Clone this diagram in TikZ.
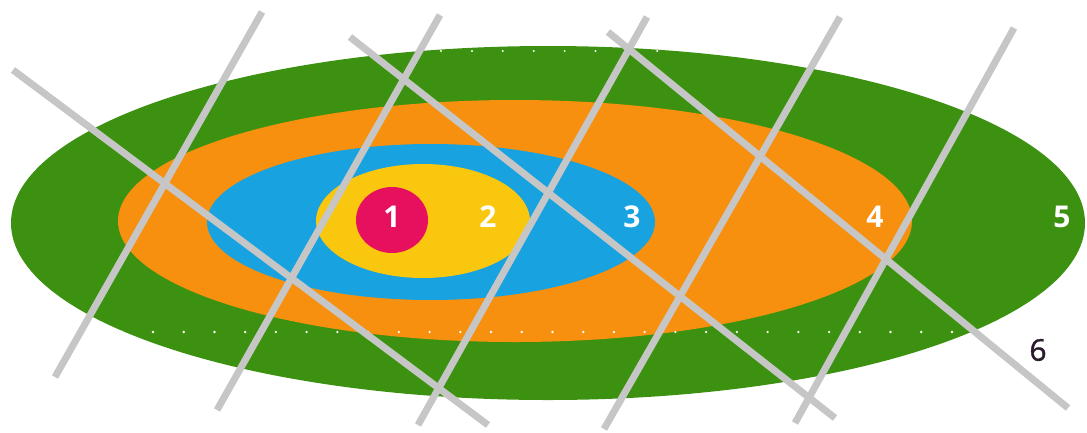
\documentclass[tikz,border=0pt]{standalone}
\usepackage{fontspec}
\newfontfamily\numfont{Open Sans}
\newfontfamily\tagfont[FakeBold=1.2]{Open Sans}
\usepackage{tikz}
\definecolor{zgreen}{HTML}{3C9210}
\definecolor{zorange}{HTML}{F7900F}
\definecolor{zblue}{HTML}{18A2E0}
\definecolor{zyellow}{HTML}{F8C70E}
\definecolor{zred}{HTML}{E6105E}
\definecolor{zgray}{HTML}{C6C6C6}
\definecolor{zdark}{HTML}{2B1B2E}
\tikzset{
  % flat coloured zone, no outline
  zone/.style = {draw=none, fill=#1},
  cut/.style  = {zgray, line width=7pt},
  dot/.style  = {fill=white},
  num/.style  = {font=\numfont\bfseries\fontsize{30}{30}\selectfont, text=white, inner sep=0pt},
  tag/.style  = {font=\tagfont\fontsize{30}{30}\selectfont, text=zdark, inner sep=0pt},
}
\begin{document}
\begin{tikzpicture}[x=1pt,y=-1pt]
\useasboundingbox (0,0) rectangle (1087,432);
% zones, outermost first
\fill[zone=zgreen]  (548,223) ellipse [x radius=537, y radius=177];
\fill[zone=zorange] (515,221) ellipse [x radius=397, y radius=121];
\fill[zone=zblue]   (431,222) ellipse [x radius=224, y radius=78];
\fill[zone=zyellow] (423,221) ellipse [x radius=107, y radius=57];
\fill[zone=zred]    (392,220) ellipse [x radius=36, y radius=33];
% white dot rows, only seen on the green
\begin{scope}
  \clip (548,223) ellipse [x radius=537, y radius=177];
  \foreach \k in {-1,...,27} \fill[dot] (153+30.73*\k,332) circle (1.3);
  \foreach \k in {-1,...,8}  \fill[dot] (441+30.9*\k,51) circle (1.1);
\end{scope}
% rising lines
\draw[cut] (55,377)  -- (262,12);
\draw[cut] (217,410) -- (440,15);
\draw[cut] (418,425) -- (647,17);
\draw[cut] (604,429) -- (840,17);
\draw[cut] (795,423) -- (1014,28);
% falling lines
\draw[cut] (13,70)   -- (488,425);
\draw[cut] (350,37)  -- (835,418);
\draw[cut] (608,32)  -- (1068,408);
% numbers
\node[num] (n1) at (392,217) {1};
\node[num] (n2) at (488,217) {2};
\node[num] (n3) at (632,217) {3};
\node[num] (n4) at (875,217) {4};
\node[num] (n5) at (1062,217) {5};
\node[tag] (n6) at (1038,350) {6};
\end{tikzpicture}
\end{document}
